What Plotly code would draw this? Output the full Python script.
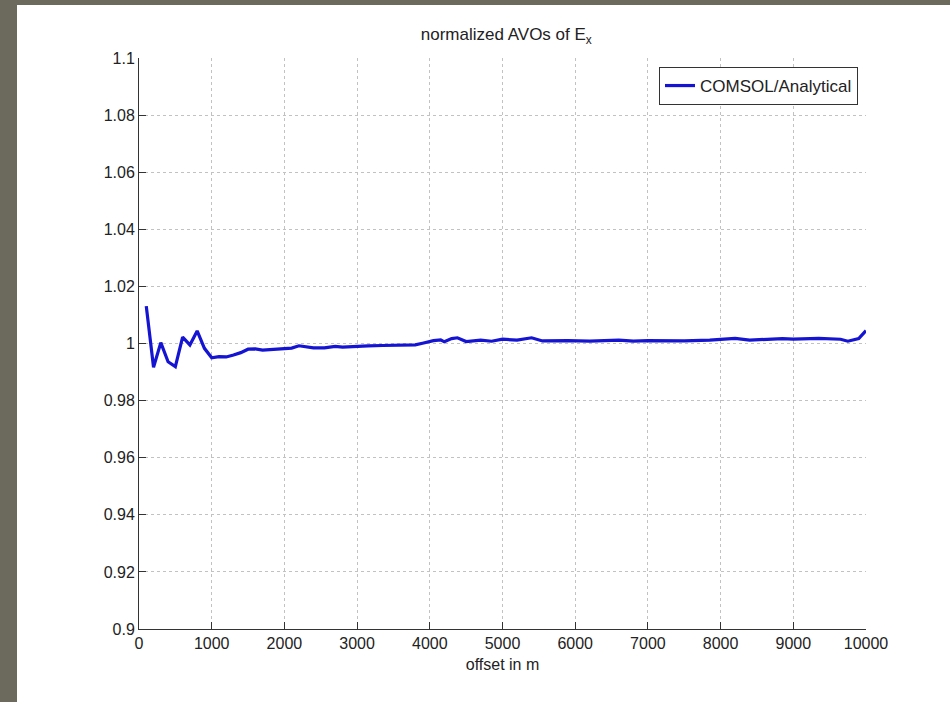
import plotly.graph_objects as go

offset_m = [100, 200, 300, 400, 500, 600, 700, 800, 900, 1000, 1100, 1200, 1300, 1400, 1500,
            1600, 1700, 1850, 2000, 2100, 2200, 2300, 2400, 2550, 2700, 2800, 2950, 3150, 3350,
            3600, 3800, 3900, 4050, 4150, 4200, 4300, 4380, 4500, 4700, 4850, 5000, 5200, 5400,
            5550, 5900, 6200, 6600, 6800, 7000, 7500, 7850, 8200, 8400, 8850, 9000, 9350, 9650,
            9750, 9900, 10000]
ratio = [1.0131, 0.9917, 1.0003, 0.9936, 0.9919, 1.0022, 0.9995, 1.0044, 0.9983, 0.9950,
         0.9954, 0.9953, 0.9960, 0.9968, 0.9980, 0.9981, 0.9977, 0.9979, 0.9982, 0.9984,
         0.9992, 0.9988, 0.9985, 0.9985, 0.9990, 0.9987, 0.9990, 0.9992, 0.9993, 0.9994,
         0.9995, 1.0001, 1.0010, 1.0013, 1.0006, 1.0017, 1.0020, 1.0007, 1.0012, 1.0008,
         1.0015, 1.0012, 1.0020, 1.0009, 1.0010, 1.0008, 1.0012, 1.0008, 1.0010, 1.0009,
         1.0012, 1.0018, 1.0012, 1.0017, 1.0015, 1.0018, 1.0015, 1.0008, 1.0017, 1.0045]

x_ticks = [0, 1000, 2000, 3000, 4000, 5000, 6000, 7000, 8000, 9000, 10000]
y_ticks = [0.9, 0.92, 0.94, 0.96, 0.98, 1.0, 1.02, 1.04, 1.06, 1.08, 1.1]
y_labels = ["0.9", "0.92", "0.94", "0.96", "0.98", "1", "1.02", "1.04", "1.06", "1.08", "1.1"]

W, H = 950, 702
L, R, T, B = 139, 84, 58, 73
pw, ph = W - L - R, H - T - B
FONT = "Liberation Sans, Arial, Helvetica, sans-serif"

fig = go.Figure()
fig.add_trace(go.Scatter(x=offset_m, y=ratio, mode="lines", name="COMSOL/Analytical",
                         line=dict(color="#1414d2", width=3.2)))

axis_common = dict(showline=True, linecolor="#333333", linewidth=1, mirror=False,
                   ticks="inside", ticklen=7, tickcolor="#333333", tickwidth=1,
                   showgrid=True, gridcolor="#c2c2c2", griddash="dot", gridwidth=1,
                   zeroline=False, tickfont=dict(family=FONT, size=16, color="#222222"))

fig.update_layout(
    width=W, height=H,
    margin=dict(l=L, r=R, t=T, b=B),
    paper_bgcolor="white", plot_bgcolor="white",
    font=dict(family=FONT, size=16, color="#222222"),
    title=dict(text="normalized AVOs of E<sub>x</sub>", x=(L + pw / 2) / W + 0.004, xanchor="center",
               y=1 - 34 / H, yanchor="middle", font=dict(family=FONT, size=17, color="#222222")),
    xaxis=dict(range=[0, 10000], tickvals=x_ticks, ticktext=[str(v) for v in x_ticks],
               title=dict(text="offset in m", standoff=7, font=dict(family=FONT, size=16)),
               **axis_common),
    yaxis=dict(range=[0.9, 1.1], tickvals=y_ticks, ticktext=y_labels, **axis_common),
    showlegend=True,
    legend=dict(x=(858 - L) / pw, xanchor="right", y=1 - (67 - T) / ph, yanchor="top",
                bgcolor="white", bordercolor="#333333", borderwidth=1,
                font=dict(family=FONT, size=17, color="#222222"), itemwidth=30,
                tracegroupgap=0),
    shapes=[
        dict(type="rect", xref="paper", yref="paper", x0=(0 - L) / pw, x1=(17 - L) / pw,
             y0=-0.5, y1=1 + T / ph + 0.1, fillcolor="#6b6a5c",
             line=dict(width=0), layer="above"),
        dict(type="rect", xref="paper", yref="paper", x0=(0 - L) / pw, x1=(W - L) / pw,
             y0=1 + (T - 5) / ph, y1=1 + T / ph + 0.1, fillcolor="#6b6a5c",
             line=dict(width=0), layer="above"),
    ],
)

fig.write_html("out.html")
